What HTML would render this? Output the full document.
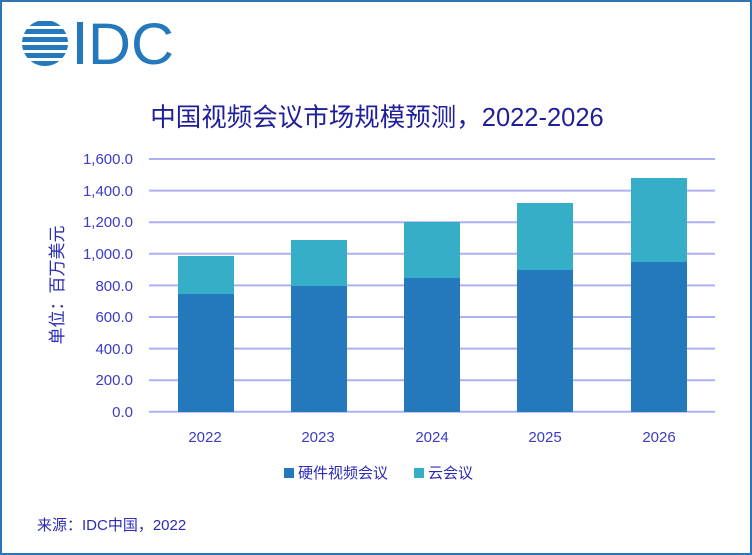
<!DOCTYPE html><html><head><meta charset="utf-8"><style>
body{margin:0;background:#fff}
.w{position:relative;width:748px;height:551px;border:2px solid #2E75B6;overflow:hidden;font-family:"Liberation Sans","Noto Sans CJK SC",sans-serif}
</style></head><body><div class="w">
<svg width="748" height="551" style="position:absolute;left:-2px;top:-2px" xmlns="http://www.w3.org/2000/svg">
<g fill="#2479BD">
<clipPath id="c"><circle cx="45" cy="43" r="23"/></clipPath>
<g clip-path="url(#c)">
<rect x="20" y="21" width="50" height="5"/><rect x="20" y="29" width="50" height="5"/><rect x="20" y="37" width="50" height="5"/><rect x="20" y="45" width="50" height="5"/><rect x="20" y="53" width="50" height="5"/><rect x="20" y="61" width="50" height="5"/>
</g>
<rect x="77" y="22" width="6" height="42"/>
</g>
<text x="88" y="64" font-size="58" fill="#2479BD" font-family="Liberation Sans" textLength="86" lengthAdjust="spacingAndGlyphs">DC</text>
<text x="377" y="126" font-size="25.5" fill="#1F1F9A" text-anchor="middle">中国视频会议市场规模预测，2022-2026</text>
<g stroke="#AFAFF5" stroke-width="2">
<line x1="149" x2="715" y1="159" y2="159"/><line x1="149" x2="715" y1="190.6" y2="190.6"/><line x1="149" x2="715" y1="222.2" y2="222.2"/><line x1="149" x2="715" y1="253.8" y2="253.8"/><line x1="149" x2="715" y1="285.4" y2="285.4"/><line x1="149" x2="715" y1="317" y2="317"/><line x1="149" x2="715" y1="348.6" y2="348.6"/><line x1="149" x2="715" y1="380.2" y2="380.2"/><line x1="149" x2="715" y1="411.8" y2="411.8"/>
</g>
<g font-size="15" fill="#3B3BC8" text-anchor="end">
<text x="133" y="164">1,600.0</text><text x="133" y="196">1,400.0</text><text x="133" y="227">1,200.0</text><text x="133" y="259">1,000.0</text><text x="133" y="291">800.0</text><text x="133" y="322">600.0</text><text x="133" y="354">400.0</text><text x="133" y="385">200.0</text><text x="133" y="417">0.0</text>
</g>
<g fill="#37AEC8">
<rect x="178" y="256" width="56" height="156"/><rect x="291" y="240" width="56" height="172"/><rect x="404" y="222" width="56" height="190"/><rect x="517" y="203" width="56" height="209"/><rect x="631" y="178" width="56" height="234"/>
</g>
<g fill="#2479BD">
<rect x="178" y="294" width="56" height="118"/><rect x="291" y="286" width="56" height="126"/><rect x="404" y="278" width="56" height="134"/><rect x="517" y="270" width="56" height="142"/><rect x="631" y="262" width="56" height="150"/>
</g>
<g font-size="15" fill="#3B3BC8" text-anchor="middle">
<text x="205" y="442">2022</text><text x="318" y="442">2023</text><text x="432" y="442">2024</text><text x="545" y="442">2025</text><text x="659" y="442">2026</text>
</g>
<text transform="translate(63,285) rotate(-90)" font-size="17" fill="#2B2BB8" text-anchor="middle">单位：百万美元</text>
<rect x="284" y="468" width="10" height="10" fill="#2479BD"/>
<text x="298" y="478" font-size="15" fill="#2B2BB8">硬件视频会议</text>
<rect x="414" y="468" width="10" height="10" fill="#37AEC8"/>
<text x="428" y="478" font-size="15" fill="#2B2BB8">云会议</text>
<text x="37" y="530" font-size="15" fill="#2B2BB8">来源：IDC中国，2022</text>
</svg></div></body></html>
